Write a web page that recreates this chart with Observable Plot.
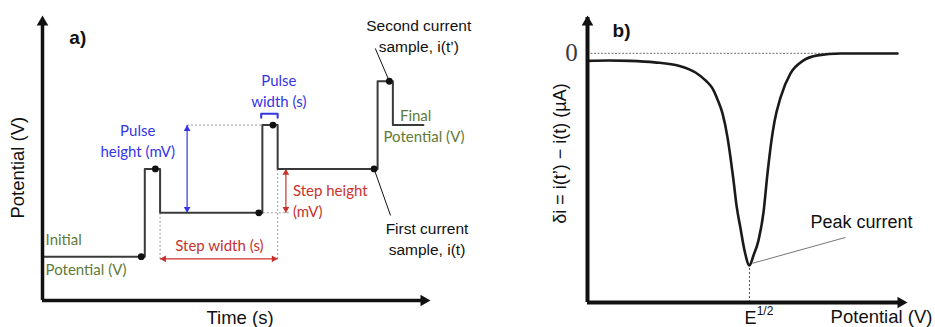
<!DOCTYPE html>
<html>
<head>
<meta charset="utf-8">
<script src="https://cdn.jsdelivr.net/npm/d3@7"></script>
<script src="https://cdn.jsdelivr.net/npm/@observablehq/plot@0.6"></script>
<style>
  body { margin: 0; background: #fff; }
  #fig { position: relative; width: 935px; height: 327px; overflow: hidden; background: #fff; }
  #fig svg { position: absolute; top: 0; }
</style>
</head>
<body>
<div id="fig"></div>
<script>
// (a) Differential pulse waveform: potential staircase with superimposed pulses
const waveTime      = [0, 0.87, 0.87, 1.0, 1.0, 1.87, 1.87, 2.0, 2.0, 2.85, 2.85, 2.98, 2.98, 3.24];
const wavePotential = [10, 10, 30, 30, 20, 20, 40, 40, 30, 30, 50, 50, 40, 40];

// current sampling instants (before each pulse and at the end of each pulse)
const sampleTime      = [0.84, 0.96, 1.84, 1.96, 2.82, 2.95];
const samplePotential = [10, 30, 20, 40, 30, 50];

// (b) Differential current response vs. applied potential (peak at E1/2 = 0)
const scanPotential = [-1.62, -1.4, -1.2, -0.95, -0.7, -0.54, -0.44, -0.37, -0.32, -0.27, -0.22, -0.19, -0.16,
                       -0.13, -0.09, -0.05, 0, 0.04, 0.09, 0.14, 0.18, 0.22, 0.25, 0.31, 0.41, 0.54, 0.68, 0.91, 1.2, 1.48];
const deltaCurrent  = [-0.035, -0.033, -0.035, -0.042, -0.059, -0.09, -0.127, -0.165, -0.217, -0.283, -0.396, -0.491, -0.599,
                       -0.717, -0.825, -0.929, -1.0, -0.953, -0.882, -0.75, -0.566, -0.41, -0.321, -0.208, -0.094, -0.033, -0.009, 0, 0, 0];

const SANS = "'Liberation Sans', Arial, sans-serif";
const SOFT = "Lato, 'Open Sans', sans-serif";
const SERIF = "'Liberation Serif', 'DejaVu Serif', serif";
const BLUE = "#3535e8", RED = "#c8322e", OLIVE = "#5f7a3a", INK = "#111";

const wave = waveTime.map((t, i) => ({t, v: wavePotential[i]}));
const samples = sampleTime.map((t, i) => ({t, v: samplePotential[i]}));

// filled triangular arrowhead whose tip sits exactly on (x, y)
function head(x, y, dir, r, fill) {
  const tip = 1.555 * r;
  const rot = {up: 0, right: 90, down: 180, left: -90}[dir];
  const off = {up: [0, tip], down: [0, -tip], right: [-tip, 0], left: [tip, 0]}[dir];
  return Plot.dot([0], {x: () => x, y: () => y, symbol: "triangle", r, rotate: rot,
                        fill, stroke: "none", dx: off[0], dy: off[1]});
}
function label(text, x, y, opts) {
  return Plot.text([text], {x: () => x, y: () => y, text: d => d, ...opts});
}

// key instants and levels taken from the waveform
const fall1 = waveTime[3], rise2 = waveTime[5], fall2 = waveTime[7];
const level1 = wavePotential[4], top2 = wavePotential[6], level2 = wavePotential[8];
const tMax = 3.3, vMax = 65;

const pulseArrowT = 1.23, stepArrowV = 9.5, heightArrowT = 2.07, bracketV = 42.6;

const panelA = Plot.plot({
  width: 480, height: 327,
  marginLeft: 42, marginRight: 50, marginTop: 15, marginBottom: 27,
  x: {domain: [0, tMax], axis: null},
  y: {domain: [0, vMax], axis: null},
  style: {background: "transparent", overflow: "visible"},
  marks: [
    // dotted guides
    Plot.link([
      {x1: pulseArrowT, x2: rise2, y1: top2, y2: top2},
      {x1: sampleTime[2], x2: heightArrowT + 0.03, y1: level1, y2: level1},
      {x1: fall1, x2: fall1, y1: level1, y2: stepArrowV},
      {x1: fall2, x2: fall2, y1: level2, y2: stepArrowV}
    ], {x1: "x1", x2: "x2", y1: "y1", y2: "y2", stroke: "#9a9a9a", strokeWidth: 1, strokeDasharray: "2,2"}),

    // pulse height (blue, double-headed)
    Plot.link([{}], {x1: () => pulseArrowT, x2: () => pulseArrowT, y1: () => level1, y2: () => top2, stroke: BLUE, strokeWidth: 1.2}),
    head(pulseArrowT, top2, "up", 2.5, BLUE),
    head(pulseArrowT, level1, "down", 2.5, BLUE),

    // pulse width bracket
    Plot.line([[rise2 - 0.01, bracketV - 0.9], [rise2 - 0.01, bracketV], [fall2, bracketV], [fall2, bracketV - 0.9]],
              {x: d => d[0], y: d => d[1], stroke: BLUE, strokeWidth: 2}),

    // step width (red, horizontal)
    Plot.link([{}], {x1: () => fall1, x2: () => fall2, y1: () => stepArrowV, y2: () => stepArrowV, stroke: RED, strokeWidth: 1.2}),
    head(fall1, stepArrowV, "left", 2.5, RED),
    head(fall2, stepArrowV, "right", 2.5, RED),

    // step height (red, vertical)
    Plot.link([{}], {x1: () => heightArrowT, x2: () => heightArrowT, y1: () => level1, y2: () => level2, stroke: RED, strokeWidth: 1.2}),
    head(heightArrowT, level2, "up", 2.5, RED),
    head(heightArrowT, level1, "down", 2.5, RED),

    // the waveform itself
    Plot.line(wave, {x: "t", y: "v", stroke: "#3a3a3a", strokeWidth: 2, curve: "linear"}),
    Plot.dot(samples, {x: "t", y: "v", r: 3.4, fill: INK, stroke: "none"}),

    // leader lines to the current samples
    Plot.link([
      {x1: 2.83, y1: 57.5, x2: sampleTime[5], y2: samplePotential[5]},
      {x1: sampleTime[4], y1: samplePotential[4], x2: 2.96, y2: 19.4}
    ], {x1: "x1", x2: "x2", y1: "y1", y2: "y2", stroke: INK, strokeWidth: 1}),

    // axes with arrowheads
    Plot.ruleX([0], {y1: 0, y2: vMax - 1.5, stroke: INK, strokeWidth: 3.5}),
    Plot.ruleY([0], {x1: 0, x2: tMax - 0.04, stroke: INK, strokeWidth: 3.5}),
    head(0, vMax, "up", 4.3, INK),
    head(tMax, 0, "right", 4.3, INK),

    // texts
    label("a)", 0.30, 59.8, {fontFamily: SANS, fontWeight: "bold", fontSize: 19, fill: INK}),
    label("Potential (V)", -0.204, 30.3, {fontFamily: SANS, fontSize: 18.5, fill: INK, rotate: -90}),
    label("Time (s)", 1.68, -4.1, {fontFamily: SANS, fontSize: 18.5, fill: INK}),
    label("Pulse\nheight (mV)", 0.81, 36.7, {fontFamily: SOFT, fontSize: 15, fill: BLUE, lineHeight: 1.45}),
    label("Pulse\nwidth (s)", 2.01, 48.1, {fontFamily: SOFT, fontSize: 15, fill: BLUE, lineHeight: 1.45}),
    label("Step width (s)", 1.505, 12.3, {fontFamily: SOFT, fontSize: 15, fill: RED}),
    label("Step height\n(mV)", 2.13, 22.9, {fontFamily: SOFT, fontSize: 15, fill: RED, textAnchor: "start", lineHeight: 1.4}),
    label("Initial", 0.026, 13.7, {fontFamily: SOFT, fontSize: 15, fill: OLIVE, textAnchor: "start"}),
    label("Potential (V)", 0.026, 6.8, {fontFamily: SOFT, fontSize: 15, fill: OLIVE, textAnchor: "start"}),
    label("Final", 3.04, 42.0, {fontFamily: SOFT, fontSize: 15, fill: OLIVE, textAnchor: "start"}),
    label("Potential (V)", 2.90, 37.2, {fontFamily: SOFT, fontSize: 15, fill: OLIVE, textAnchor: "start"}),
    label("Second current\nsample, i(t’)", 3.20, 60.5, {fontFamily: SANS, fontSize: 15.5, fill: INK, lineHeight: 1.35}),
    label("First current\nsample, i(t)", 3.27, 14.25, {fontFamily: SANS, fontSize: 15.5, fill: INK, lineHeight: 1.35})
  ]
});

// ---- panel (b) ----
const curve = scanPotential.map((e, i) => ({e, di: deltaCurrent[i]}));
const eMin = -1.62, eMax = 1.58, iMin = -1.175, iMax = 0.179;
const peak = curve.reduce((a, b) => (b.di < a.di ? b : a));

const panelB = Plot.plot({
  width: 465, height: 327,
  marginLeft: 117, marginRight: 28, marginTop: 15, marginBottom: 25,
  x: {domain: [eMin, eMax], axis: null},
  y: {domain: [iMin, iMax], axis: null},
  style: {background: "transparent", overflow: "visible"},
  marks: [
    // zero-current reference
    Plot.ruleY([0], {x1: scanPotential[0], x2: scanPotential[scanPotential.length - 1], stroke: "#8a8a8a", strokeWidth: 1.3, strokeDasharray: "2,1.5"}),
    // E1/2 drop line
    Plot.ruleX([peak.e], {y1: iMin, y2: peak.di, stroke: "#555", strokeWidth: 1, strokeDasharray: "2,2"}),
    // peak current leader
    Plot.link([{}], {x1: () => peak.e + 0.03, y1: () => peak.di + 0.01, x2: () => 0.96, y2: () => -0.868, stroke: "#777", strokeWidth: 1}),
    Plot.line(curve, {x: "e", y: "di", stroke: "#1a1a1a", strokeWidth: 2.6, curve: "monotone-x"}),

    // axes
    Plot.ruleX([eMin], {y1: iMin, y2: iMax - 0.01, stroke: INK, strokeWidth: 4}),
    Plot.ruleY([iMin], {x1: eMin, x2: eMax - 0.04, stroke: INK, strokeWidth: 4}),
    head(eMin, iMax, "up", 4.3, INK),
    head(eMax, iMin, "right", 4.3, INK),

    label("b)", -1.28, 0.108, {fontFamily: SANS, fontWeight: "bold", fontSize: 19, fill: INK}),
    label("0", -1.78, 0, {fontFamily: SERIF, fontSize: 25, fill: "#3a3a3a"}),
    label("δi = i(t’) − i(t) (µA)", -1.89, -0.472, {fontFamily: SANS, fontSize: 18, fill: INK, rotate: -90}),
    label("Peak current", 0.61, -0.797, {fontFamily: SANS, fontSize: 18, fill: INK, textAnchor: "start"}),
    label("Potential (V)", 1.32, -1.245, {fontFamily: SANS, fontSize: 18.5, fill: INK}),
    label("E", peak.e + 0.01, -1.247, {fontFamily: SANS, fontSize: 18, fill: INK}),
    label("1/2", peak.e + 0.155, -1.218, {fontFamily: SANS, fontSize: 12, fill: INK})
  ]
});

panelA.style.left = "0px";
panelB.style.left = "470px";
const fig = document.getElementById("fig");
fig.append(panelA, panelB);
</script>
</body>
</html>
